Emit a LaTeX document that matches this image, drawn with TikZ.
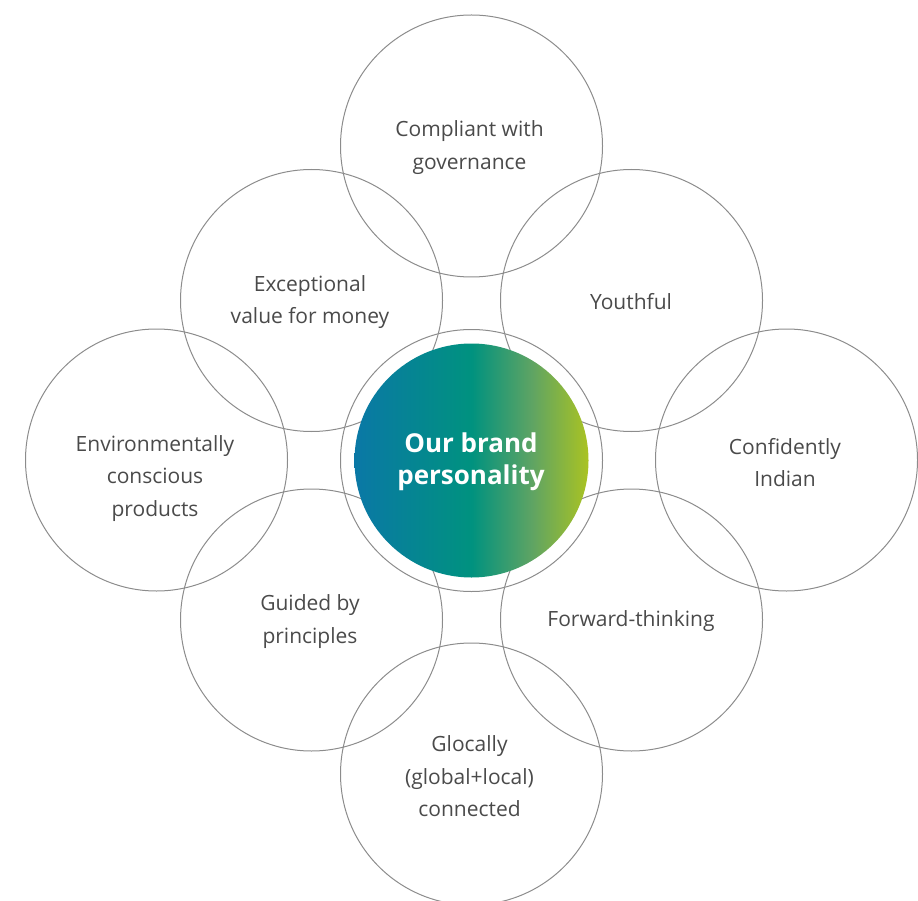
\documentclass[tikz,border=0pt]{standalone}
\usepackage{fontspec}
\setmainfont{Open Sans}
\definecolor{ringgray}{HTML}{8C8C8C}
\definecolor{txtgray}{HTML}{4A4A4A}
\definecolor{gA}{HTML}{0A78A6}
\definecolor{gB}{HTML}{00927F}
\definecolor{gM}{HTML}{5FA463}
\definecolor{gC}{HTML}{AAC322}
\pgfdeclarehorizontalshading{brandshade}{100bp}{color(0bp)=(gA); color(25bp)=(gA); color(50bp)=(gB); color(63bp)=(gM); color(75bp)=(gC); color(100bp)=(gC)}
\tikzset{
  bubble/.style={circle, draw=ringgray, line width=1pt, minimum size=262pt, inner sep=0pt},
  trait/.style={align=center, text=txtgray, font=\fontsize{21}{32.5}\selectfont, inner sep=0pt},
  core/.style={circle, minimum size=234pt, inner sep=0pt, shading=brandshade, align=center, text=white, font=\fontsize{26}{32.5}\selectfont\bfseries}
}
\begin{document}
\begin{tikzpicture}[x=1pt,y=-1pt]
\useasboundingbox (0,0) rectangle (918,901);
\node[bubble] (ctop) at (471.5,146) {};
\node[bubble] (cul) at (311.5,300.5) {};
\node[bubble] (cur) at (631.5,300.5) {};
\node[bubble] (cl) at (156.5,460) {};
\node[bubble] (cr) at (786.5,460) {};
\node[bubble] (cll) at (311.5,620) {};
\node[bubble] (clr) at (631.5,620) {};
\node[bubble] (cbot) at (471.5,774) {};
\node[bubble] (ring) at (471.5,460.5) {};
\node[core] (center) at (471.5,460.5) {};
\node[text=white, align=center, inner sep=0pt, font=\fontsize{26}{32.5}\selectfont\bfseries] (ctext) at (471,461.5) {Our brand\\personality};
\node[trait] (ttop) at (469.5,147.5) {Compliant with\\governance};
\node[trait] (tul) at (310,302) {Exceptional\\value for money};
\node[trait] (tur) at (631,301.5) {Youthful};
\node[trait] (tl) at (155,478.5) {Environmentally\\conscious\\products};
\node[trait] (tr) at (785,462.5) {Confidently\\Indian};
\node[trait] (tll) at (310,621.5) {Guided by\\principles};
\node[trait] (tlr) at (631,621.5) {Forward-thinking};
\node[trait] (tbot) at (469.5,776.5) {Glocally\\(global+local)\\connected};
\end{tikzpicture}
\end{document}
